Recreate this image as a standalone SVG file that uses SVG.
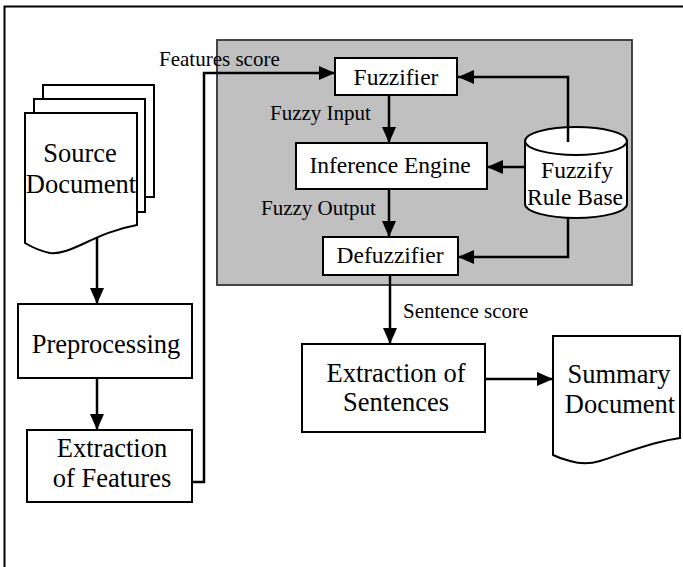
<svg xmlns="http://www.w3.org/2000/svg" width="683" height="567" viewBox="0 0 683 567">
<defs>
<marker id="ah" viewBox="0 0 16 14" markerWidth="16" markerHeight="14" refX="16" refY="7" orient="auto" markerUnits="userSpaceOnUse">
<path d="M0,0 L16,7 L0,14 Z" fill="#000"/>
</marker>
<style>
.box{fill:#fff;stroke:#000;stroke-width:2}
.t{fill:#000;text-anchor:middle}
.big{font-size:26.5px}
.mid{font-size:23.5px}
.lbl{fill:#000;font-size:21px}
.c{fill:none;stroke:#000;stroke-width:2.5;marker-end:url(#ah)}
</style>
</defs>
<rect width="683" height="567" fill="#fff"/>
<path d="M4.5,567 V6.5 H683" fill="none" stroke="#000" stroke-width="2"/>
<g font-family="Liberation Serif, serif">
<g id="fuzzy-system">
<rect x="217" y="40" width="415" height="245" fill="#c0c0c0" stroke="#333" stroke-width="1.8"/>
</g>
<g id="source-document">
<rect class="box" x="43" y="85" width="111" height="112"/>
<rect class="box" x="34" y="99" width="111" height="113"/>
<path class="box" d="M25,113 H137 V225 C115,229 100,236 85,243 C70,250 60,254 50,253 C40,251 30,246 25,243 Z"/>
<text class="t big" x="80" y="162">Source</text>
<text class="t big" x="81" y="193">Document</text>
</g>
<g id="preprocessing">
<rect class="box" x="18" y="304" width="174" height="74"/>
<text class="t big" x="106" y="353">Preprocessing</text>
</g>
<g id="extraction-features">
<rect class="box" x="27" y="430" width="165" height="72"/>
<text class="t big" x="112" y="457">Extraction</text>
<text class="t big" x="112" y="487">of Features</text>
</g>
<g id="fuzzifier">
<rect class="box" x="335" y="58" width="122" height="37"/>
<text class="t mid" x="396" y="85">Fuzzifier</text>
</g>
<g id="inference-engine">
<rect class="box" x="296" y="143" width="191" height="46"/>
<text class="t mid" x="390" y="173">Inference Engine</text>
</g>
<g id="defuzzifier">
<rect class="box" x="323" y="237" width="135" height="38"/>
<text class="t mid" x="390" y="263">Defuzzifier</text>
</g>
<g id="rule-base">
<path class="box" d="M525,141 L525,204 A51,14 0 0 0 627,204 L627,141 Z"/>
<ellipse class="box" cx="576" cy="141" rx="51" ry="14"/>
<text class="t mid" x="577" y="178">Fuzzify</text>
<text class="t mid" x="575" y="205">Rule Base</text>
</g>
<g id="extraction-sentences">
<rect class="box" x="302" y="344" width="183" height="88"/>
<text class="t big" x="396" y="382">Extraction of</text>
<text class="t big" x="396" y="411">Sentences</text>
</g>
<g id="summary-document">
<path class="box" d="M553,336 H680 V438 C650,442 620,455 600,461 C590,464 580,464 570,461 C562,459 557,457 553,455 Z"/>
<text class="t big" x="619" y="383">Summary</text>
<text class="t big" x="620" y="413">Document</text>
</g>
<g id="connectors">
<path class="c" d="M97,237 V304"/>
<path class="c" d="M97,378 V430"/>
<path class="c" d="M192,482 H204 V73 H335"/>
<path class="c" d="M389,95 V143"/>
<path class="c" d="M389,189 V237"/>
<path class="c" d="M568,142 V77 H458"/>
<path class="c" d="M525,167 H487"/>
<path class="c" d="M568,218 V257 H458"/>
<path class="c" d="M390,275 V344"/>
<path class="c" d="M485,379 H553"/>
<text class="lbl" x="159" y="66">Features score</text>
<text class="lbl" x="270" y="120">Fuzzy Input</text>
<text class="lbl" x="261" y="215">Fuzzy Output</text>
<text class="lbl" x="403" y="318">Sentence score</text>
</g>
</g>
</svg>
